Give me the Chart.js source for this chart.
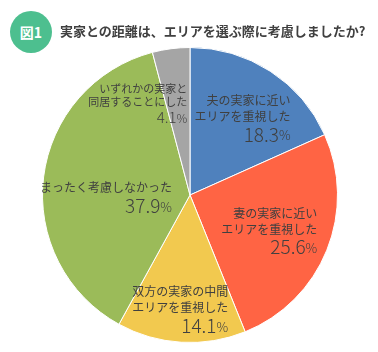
<!DOCTYPE html>
<html lang="ja">
<head>
<meta charset="utf-8">
<script src="https://cdn.jsdelivr.net/npm/chart.js@4/dist/chart.umd.min.js"></script>
<style>
    html, body { margin: 0; padding: 0; background: #fff; }
    #wrap { position: relative; width: 378px; height: 352px; }
    #badge {
        position: absolute; left: 10px; top: 11px; width: 42px; height: 42px;
        border-radius: 50%; background: #4dbf8f; color: #fff;
        font: bold 14px 'Noto Sans CJK JP', sans-serif;
        display: flex; align-items: center; justify-content: center;
    }
    #title {
        position: absolute; left: 60px; top: 21px; white-space: nowrap;
        font: bold 13px 'Noto Sans CJK JP', sans-serif; color: #404040;
    }
    canvas { position: absolute; left: 0; top: 0; }
</style>
</head>
<body>
<div id="wrap">
    <canvas id="pie" width="378" height="352"></canvas>
    <div id="badge">図1</div>
    <div id="title">実家との距離は、エリアを選ぶ際に考慮しましたか?</div>
</div>
<script>
// ===================================================================
// 図1 実家との距離 — pie chart
// ===================================================================

const categories = [
    ['夫の実家に近い', 'エリアを重視した'],
    ['妻の実家に近い', 'エリアを重視した'],
    ['双方の実家の中間', 'エリアを重視した'],
    ['まったく考慮しなかった'],
    ['いずれかの実家と', '同居することにした']
];
const shares = [18.3, 25.6, 14.1, 37.9, 4.1];
const sliceColors = ['#4f81bd', '#ff6444', '#f2c94f', '#9bbb59', '#a5a5a5'];

// label placement: [fraction of radius, angle nudge in degrees, small text?]
const labelPlace = [[0.63, 1.5, false], [0.59, 2.5, false], [0.78, 1.5, false], [0.57, -9, false], [0.707, -22.7, true]];

const sliceLabels = {
    id: 'sliceLabels',
    afterDatasetsDraw(chart) {
        const ctx = chart.ctx;
        const meta = chart.getDatasetMeta(0);
        meta.data.forEach((arc, i) => {
            const [frac, nudge, small] = labelPlace[i];
            const mid = (arc.startAngle + arc.endAngle) / 2 + nudge * Math.PI / 180;
            const r = arc.outerRadius * frac;
            const cx = arc.x + Math.cos(mid) * r;
            const cy = arc.y + Math.sin(mid) * r;
            const lines = categories[i];
            const lineH = small ? 13 : 16;
            const pctH = small ? 18 : 20;
            const blockH = lines.length * lineH + pctH;
            ctx.save();
            ctx.fillStyle = '#404040';
            ctx.textBaseline = 'middle';
            ctx.font = (small ? '11px' : '12px') + ' "Noto Sans CJK JP", sans-serif';
            const w = Math.max(...lines.map(l => ctx.measureText(l).width));
            const right = cx + w / 2;
            ctx.textAlign = 'right';
            let y = cy - blockH / 2 + lineH / 2;
            lines.forEach(l => { ctx.fillText(l, right, y); y += lineH; });
            y += (pctH - lineH) / 2;
            // percent value with smaller % sign
            ctx.font = (small ? '300 12px' : '300 13px') + ' "Noto Sans CJK JP", sans-serif';
            const pw = ctx.measureText('%').width;
            ctx.fillText('%', right, y + 1);
            ctx.font = (small ? '300 15px' : '300 19px') + ' "Noto Sans CJK JP", sans-serif';
            ctx.fillText(shares[i].toFixed(1), right - pw, y);
            ctx.restore();
        });
    }
};

new Chart(document.getElementById('pie').getContext('2d'), {
    type: 'pie',
    data: {
        labels: categories.map(c => c.join('')),
        datasets: [{
            data: shares,
            backgroundColor: sliceColors,
            borderColor: '#ffffff',
            borderWidth: 1
        }]
    },
    options: {
        responsive: false,
        animation: false,
        layout: { padding: { left: 42, right: 40, top: 47, bottom: 9 } },
        plugins: {
            legend: { display: false },
            tooltip: { enabled: false }
        }
    },
    plugins: [sliceLabels]
});
</script>
</body>
</html>
